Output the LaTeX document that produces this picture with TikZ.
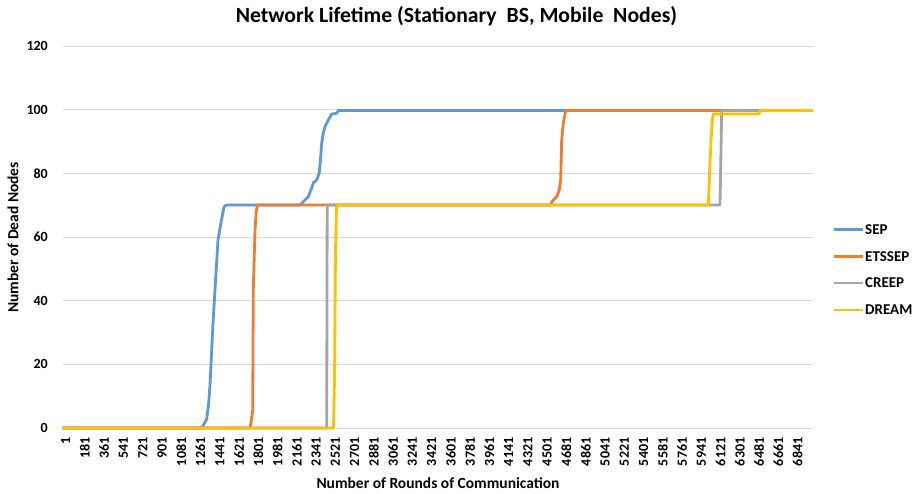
\documentclass[tikz,border=0pt]{standalone}
\usepackage{fontspec}
\setmainfont{Carlito}
\definecolor{sepc}{HTML}{5B9BD5}
\definecolor{etsc}{HTML}{ED7D31}
\definecolor{crec}{HTML}{A5A5A5}
\definecolor{drec}{HTML}{FFC000}
\definecolor{gridc}{HTML}{D9D9D9}
\definecolor{txtc}{HTML}{000000}
\begin{document}
\begin{tikzpicture}[x=1pt,y=-1pt,
  gridline/.style={gridc,line width=1pt},
  series/.style={line width=2.8pt,line join=round,line cap=butt},
  ticklab/.style={font=\fontsize{14}{16}\selectfont\bfseries,inner sep=0pt,text=txtc},
  axtitle/.style={font=\fontsize{15.5}{18}\selectfont\bfseries,inner sep=0pt,text=txtc},
  legtext/.style={font=\fontsize{15}{17}\selectfont\bfseries,inner sep=0pt,anchor=west,text=txtc}]
\useasboundingbox (0,0) rectangle (921,494);
\fill[white] (0,0) rectangle (921,494);
% title
\node[font=\fontsize{21.7}{25}\selectfont\bfseries,inner sep=0pt] (title) at (456.5,16) {Network Lifetime (Stationary\ \ BS, Mobile\ \ Nodes)};
% gridlines and y tick labels
\foreach \v in {0,20,...,120}{
  \coordinate (gl\v) at (62.5,{428-3.183*\v});
  \coordinate (gr\v) at (813,{428-3.183*\v});
  \draw[gridline] (gl\v) -- (gr\v);
  \node[ticklab,anchor=east] (yt\v) at (48,{428-3.183*\v}) {\v};
}
% x tick labels
\foreach \k in {0,...,38}{
  \pgfmathtruncatemacro\lab{1+180*\k}
  \node[ticklab,rotate=90,anchor=east] (xt\k) at ({65.7+19.26*\k},437.5) {\lab};
}
% axis titles
\node[axtitle] (xtitle) at (438,483) {Number of Rounds of Communication};
\node[axtitle,rotate=90] (ytitle) at (13,237.5) {Number of Dead Nodes};
% SEP
\draw[series,sepc] (62.5,428) -- (201,428) -- (203.5,425) -- (206.7,419) -- (208.5,405) -- (210,385) -- (213,323) -- (216,273) -- (218,240) -- (221.5,220) -- (224,207) -- (226,205)
  -- (300,205) -- (305,200) -- (308.3,196.7) -- (311.7,188) -- (313.3,183) -- (316.7,180) -- (319.3,173) -- (320.7,156.7) -- (321.7,143) -- (323.3,133) -- (325,126.7) -- (328.3,120) -- (331.7,114) -- (336.7,113.3) -- (338.5,110.5) -- (813,110.5);
% ETSSEP
\draw[series,etsc] (62.5,428) -- (250,428) -- (251.3,421) -- (252.7,410) -- (253.3,290) -- (255,230) -- (256.2,212) -- (257.3,205)
  -- (550,205) -- (553.3,200) -- (556.7,196.7) -- (559.3,190) -- (560.7,180) -- (561.7,140) -- (563.3,123) -- (565.7,110.5) -- (724,110.5);
% CREEP
\draw[series,crec] (62.5,428) -- (326.7,428) -- (327.2,205) -- (720,205) -- (721.7,110.5) -- (758,110.5);
% DREAM
\draw[series,drec] (62.5,428) -- (333.5,428) -- (334.5,380) -- (335.5,250) -- (336.5,208) -- (337.5,205)
  -- (708.3,205) -- (709.5,175) -- (711,140) -- (712.5,118) -- (713.5,114) -- (759,114) -- (760,110.5) -- (813,110.5);
% legend
\foreach \n/\c/\yy/\t in {sep/sepc/229.5/SEP, ets/etsc/256.5/ETSSEP, cre/crec/283/CREEP, dre/drec/310/DREAM}{
  \coordinate (la\n) at (834,\yy);
  \coordinate (lb\n) at (863,\yy);
  \draw[series,\c] (la\n) -- (lb\n);
  \node[legtext] (lt\n) at (865,\yy) {\t};
}
\end{tikzpicture}
\end{document}
